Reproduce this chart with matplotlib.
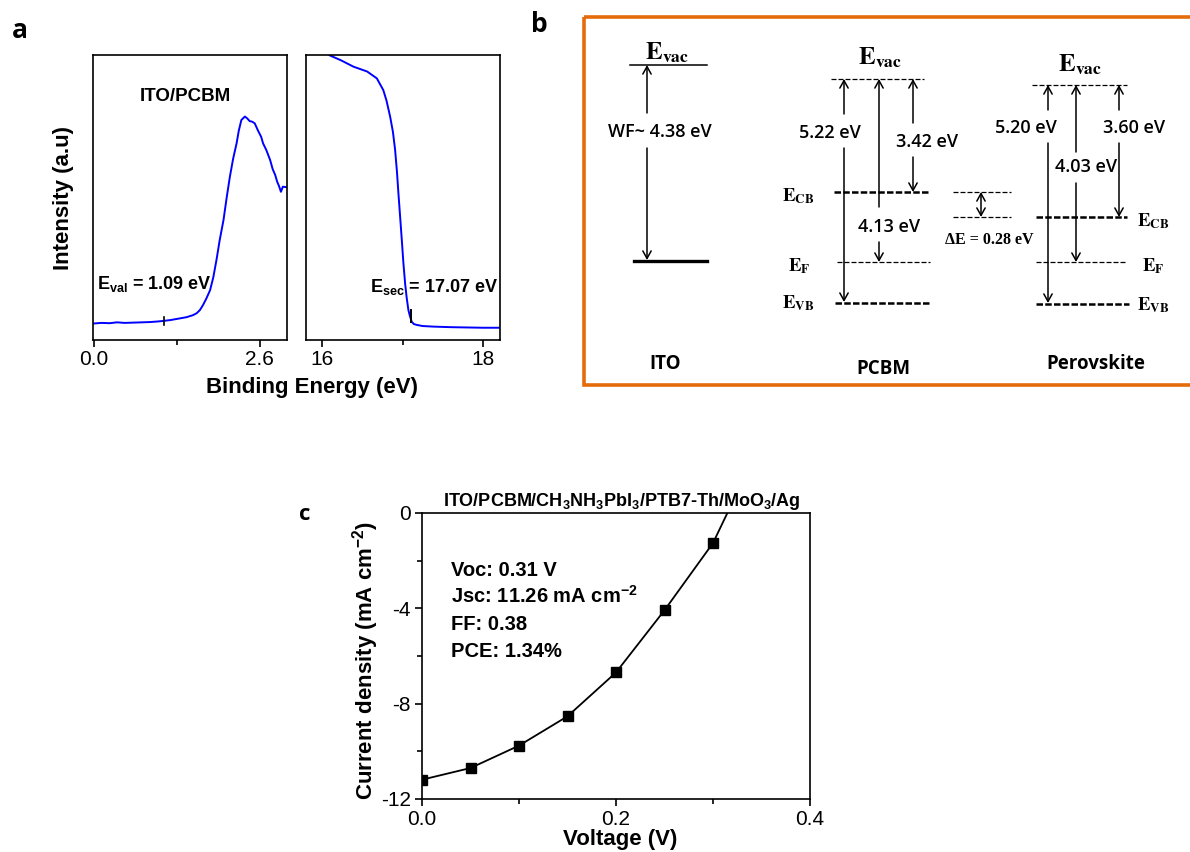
import matplotlib
matplotlib.use('Agg')
import matplotlib.pyplot as plt
from matplotlib.patches import Rectangle, FancyArrowPatch

plt.rcParams['font.family'] = ['Liberation Sans', 'DejaVu Sans']
plt.rcParams['mathtext.fontset'] = 'custom'
plt.rcParams['mathtext.rm'] = 'Liberation Sans'
plt.rcParams['mathtext.bf'] = 'Liberation Sans:bold'
plt.rcParams['mathtext.it'] = 'Liberation Sans:italic'
plt.rcParams['axes.unicode_minus'] = False

# ---------------- data: panel a (UPS spectra) ----------------
val_energy = [0.00, 0.12, 0.25, 0.36, 0.48, 0.62, 0.75, 0.88, 1.00, 1.09, 1.20, 1.35, 1.45,
              1.55, 1.61, 1.66, 1.71, 1.76, 1.82, 1.87, 1.92, 1.97, 2.03, 2.08, 2.13, 2.18,
              2.235, 2.27, 2.31, 2.365, 2.40, 2.44, 2.48, 2.52, 2.57, 2.62, 2.65, 2.70, 2.76,
              2.80, 2.84, 2.87, 2.90, 2.93, 2.96, 3.02]
val_intensity = [0.058, 0.060, 0.059, 0.062, 0.060, 0.061, 0.062, 0.063, 0.065, 0.067, 0.070,
                 0.076, 0.080, 0.087, 0.094, 0.105, 0.123, 0.145, 0.175, 0.220, 0.281, 0.350,
                 0.421, 0.500, 0.573, 0.635, 0.690, 0.735, 0.772, 0.784, 0.778, 0.768, 0.766,
                 0.760, 0.735, 0.713, 0.690, 0.667, 0.632, 0.600, 0.579, 0.556, 0.540, 0.520,
                 0.538, 0.536]
sec_energy = [16.05, 16.10, 16.23, 16.39, 16.56, 16.68, 16.76, 16.80, 16.845, 16.88, 16.907,
              16.93, 16.948, 16.97, 16.99, 17.01, 17.031, 17.05, 17.072, 17.09, 17.113, 17.14,
              17.175, 17.25, 17.38, 17.6, 17.8, 18.0, 18.21]
sec_intensity = [1.01, 0.998, 0.982, 0.959, 0.942, 0.918, 0.877, 0.840, 0.784, 0.730, 0.667,
                 0.590, 0.515, 0.430, 0.351, 0.270, 0.199, 0.150, 0.105, 0.085, 0.064, 0.056,
                 0.053, 0.049, 0.047, 0.045, 0.044, 0.043, 0.043]
E_val = 1.09
E_sec = 17.07
val_ticks = [0.0, 2.6]
val_ticklabels = ['0.0', '2.6']
sec_ticks = [16, 18]
sec_ticklabels = ['16', '18']

# ---------------- data: panel b (energy diagram) ----------------
materials = ['ITO', 'PCBM', 'Perovskite']
ito_wf = 4.38
pcbm_vac_to = {'VB': 5.22, 'F': 4.13, 'CB': 3.42}
perov_vac_to = {'VB': 5.20, 'F': 4.03, 'CB': 3.60}
delta_E = 0.28

# ---------------- data: panel c (J-V curve) ----------------
voltage = [0.00, 0.05, 0.10, 0.15, 0.20, 0.25, 0.30]
current = [-11.19, -10.70, -9.76, -8.53, -6.69, -4.08, -1.26]
line_voltage = voltage + [0.316]
line_current = current + [0.10]
jv_params = ['Voc: 0.31 V', r'Jsc: 11.26 mA cm$^{\mathbf{-2}}$', 'FF: 0.38', 'PCE: 1.34%']
c_xticks = [0.0, 0.2, 0.4]
c_xticklabels = ['0.0', '0.2', '0.4']
c_yticks = [-12, -8, -4, 0]
c_yticklabels = ['-12', '-8', '-4', '0']

W, H = 1190, 852
fig = plt.figure(figsize=(W / 100, H / 100), dpi=100)


def px_rect(x0, y0, x1, y1):
    return [x0 / W, 1 - y1 / H, (x1 - x0) / W, (y1 - y0) / H]


def style_axes(ax, lw=1.2):
    for s in ax.spines.values():
        s.set_linewidth(lw)
    ax.tick_params(which='major', direction='out', length=5, width=lw, labelsize=15, pad=2)
    ax.tick_params(which='minor', direction='out', length=3.5, width=lw)


BLUE = '#0000FF'

# ---------- panel a ----------
axL = fig.add_axes(px_rect(93, 55, 287, 340))
axL.plot(val_energy, val_intensity, color=BLUE, lw=1.4)
axL.plot([E_val, E_val], [0.053, 0.081], color='black', lw=1.2)
axL.set_xlim(-0.015, 3.025)
axL.set_ylim(0, 1)
axL.set_yticks([])
axL.set_xticks(val_ticks)
axL.set_xticklabels(val_ticklabels)
axL.set_xticks([1.3], minor=True)
style_axes(axL)
axL.text(1.44, 0.856, 'ITO/PCBM', ha='center', va='center', fontsize=13.5, fontweight='bold')
axL.text(0.05, 0.195, r'E$_{\mathbf{val}}$ = %.2f eV' % E_val, ha='left', va='center',
         fontsize=13, fontweight='bold')

axR = fig.add_axes(px_rect(306, 55, 500, 340))
axR.plot(sec_energy, sec_intensity, color=BLUE, lw=1.4)
axR.plot([E_sec + 0.03, E_sec + 0.03], [0.063, 0.105], color='black', lw=1.4)
axR.set_xlim(15.8, 18.21)
axR.set_ylim(0, 1)
axR.set_yticks([])
axR.set_xticks(sec_ticks)
axR.set_xticklabels(sec_ticklabels)
axR.set_xticks([17], minor=True)
style_axes(axR)
axR.text(18.19, 0.186, r'E$_{\mathbf{sec}}$ = %.2f eV' % E_sec, ha='right', va='center',
         fontsize=13, fontweight='bold')

# ---------- panel c ----------
axC = fig.add_axes(px_rect(422, 513, 810, 799))
axC.plot(line_voltage, line_current, color='black', lw=1.3)
axC.plot(voltage, current, 's', color='black', ms=7.5)
axC.set_xlim(0, 0.4)
axC.set_ylim(-12, 0)
axC.set_xticks(c_xticks)
axC.set_xticklabels(c_xticklabels)
axC.set_xticks([0.1, 0.3], minor=True)
axC.set_yticks(c_yticks)
axC.set_yticklabels(c_yticklabels)
axC.set_yticks([-10, -6, -2], minor=True)
style_axes(axC)
axC.tick_params(axis='x', which='major', pad=3)
axC.tick_params(axis='y', which='major', pad=3)

# ---------- overlay (pixel coordinates) ----------
ov = fig.add_axes([0, 0, 1, 1])
ov.set_xlim(0, W)
ov.set_ylim(H, 0)
ov.axis('off')

LETTER = dict(family=['Open Sans', 'DejaVu Sans'], fontweight='bold', ha='center', va='center')
ov.text(20, 30, 'a', fontsize=19, **LETTER)
ov.text(539, 24, 'b', fontsize=19, **LETTER)
ov.text(305, 514, 'c', fontsize=16, **LETTER)

ov.text(63, 198, 'Intensity (a.u)', rotation=90, ha='center', va='center', fontsize=16,
        fontweight='bold')
ov.text(312, 388, 'Binding Energy (eV)', ha='center', va='center', fontsize=16, fontweight='bold')

ov.text(366, 660, r'Current density (mA cm$^{\mathbf{-2}}$)', rotation=90, ha='center',
        va='center', fontsize=16, fontweight='bold')
ov.text(620, 839, 'Voltage (V)', ha='center', va='center', fontsize=16, fontweight='bold')
ov.text(622, 506, r'ITO/PCBM/CH$_{\mathbf{3}}$NH$_{\mathbf{3}}$PbI$_{\mathbf{3}}$/PTB7-Th/MoO$_{\mathbf{3}}$/Ag',
        ha='center', va='baseline', fontsize=13, fontweight='bold')
for i, t in enumerate(jv_params):
    ov.text(451, 576 + 27 * i, t, ha='left', va='baseline', fontsize=14.5, fontweight='bold')

# ---------- panel b ----------
ORANGE = '#E46C0A'
ov.add_patch(Rectangle((584, 17), 660, 368, fill=False, edgecolor=ORANGE, lw=2.6, clip_on=False))

NUM = dict(family=['Open Sans', 'DejaVu Sans'], fontsize=13, fontweight='semibold',
           ha='center', va='center')
MAT = dict(family=['Open Sans', 'DejaVu Sans'], fontsize=13.5, fontweight='bold',
           ha='center', va='center')
THIN = dict(color='black', lw=0.9, linestyle=(0, (4, 1.6)))
THICK = dict(color='black', lw=1.8, linestyle=(0, (2.6, 0.9)))


def elabel(x, y, sub, size):
    ov.text(x, y, r'$\mathbf{E}_{\mathbf{%s}}$' % sub, ha='center', va='center',
            fontsize=size, math_fontfamily='stix')


def arrow(p0, p1, style):
    ov.add_patch(FancyArrowPatch(p0, p1, arrowstyle=style + ',head_length=0.45,head_width=0.25',
                                 mutation_scale=12, lw=1.1, color='black',
                                 shrinkA=0, shrinkB=0))


def split_arrow(x, top, bot, g0, g1):
    arrow((x, top), (x, g0), '<-')
    arrow((x, g1), (x, bot), '->')


# ITO
ov.plot([630, 707], [65, 65], color='black', lw=1.1)
ov.plot([634, 707], [261, 261], color='black', lw=2.4)
elabel(667, 53, 'vac', 18)
split_arrow(647, 65, 260, 113, 148)
ov.text(660, 132, 'WF~ %.2f eV' % ito_wf, **NUM)
ov.text(665, 364, materials[0], **MAT)

# PCBM
ov.plot([831, 924], [79, 79], **THIN)
ov.plot([834, 928], [192, 192], **THICK)
ov.plot([837, 930], [262, 262], **THIN)
ov.plot([835, 930], [303, 303], **THICK)
elabel(880, 58, 'vac', 18)
split_arrow(844, 79, 302, 114, 148)
ov.text(830, 133, '%.2f eV' % pcbm_vac_to['VB'], **NUM)
split_arrow(879, 79, 262, 207, 242)
ov.text(889, 227, '%.2f eV' % pcbm_vac_to['F'], **NUM)
split_arrow(913, 79, 192, 123, 157)
ov.text(927, 142, '%.2f eV' % pcbm_vac_to['CB'], **NUM)
elabel(798, 196, 'CB', 13.5)
elabel(799, 266, 'F', 13.5)
elabel(798, 303, 'VB', 13.5)
ov.text(883, 369, materials[1], **MAT)

# delta E
ov.plot([953, 1011], [192, 192], **THIN)
ov.plot([953, 1011], [217, 217], **THIN)
arrow((981, 192), (981, 217), '<->')
ov.text(989, 240, '\u0394E = %.2f eV' % delta_E, ha='center', va='center', fontsize=11.5,
        fontweight='bold', family=['Liberation Serif', 'DejaVu Serif'])

# Perovskite
ov.plot([1032, 1127], [85, 85], **THIN)
ov.plot([1036, 1127], [217, 217], **THICK)
ov.plot([1036, 1127], [262, 262], **THIN)
ov.plot([1036, 1129], [304, 304], **THICK)
elabel(1080, 65, 'vac', 18)
split_arrow(1048, 85, 303, 110, 143)
ov.text(1026, 128, '%.2f eV' % perov_vac_to['VB'], **NUM)
split_arrow(1076, 85, 262, 152, 183)
ov.text(1086, 167, '%.2f eV' % perov_vac_to['F'], **NUM)
split_arrow(1119, 85, 217, 110, 143)
ov.text(1134, 128, '%.2f eV' % perov_vac_to['CB'], **NUM)
elabel(1153, 221, 'CB', 13.5)
elabel(1153, 266, 'F', 13.5)
elabel(1153, 305, 'VB', 13.5)
ov.text(1096, 364, materials[2], **MAT)

fig.savefig('out.png', dpi=100)
